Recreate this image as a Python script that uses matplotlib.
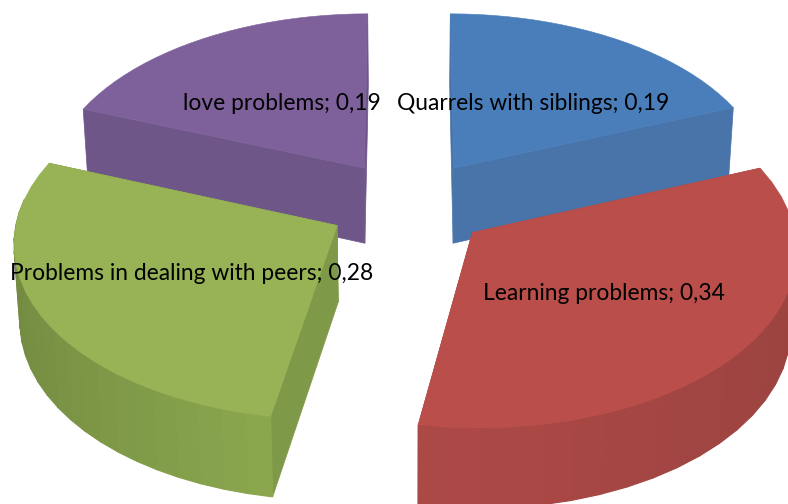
#!/usr/bin/env python3

import numpy as np
import matplotlib
matplotlib.use("Agg")
import matplotlib.pyplot as plt
from matplotlib.colors import to_rgb
from matplotlib.patches import Polygon

labels = ["Quarrels with siblings", "Learning problems",
          "Problems in dealing with peers", "love problems"]
values = [0.19, 0.34, 0.28, 0.19]

top_colors = ["#4A7EBB", "#B94E4A", "#97B356", "#7E619B"]
face_colors = ["#4874A9", "#A84845", "#7E9A48", "#6E5689"]
rim_dark = ["#3F6797", "#9C4340", "#748C42", "#5F4A78"]
rim_light = ["#4874A9", "#AC4946", "#8FAC50", "#6E5689"]

# label position in pixels (left, vertical centre)
label_x = [397, 483, 10, 183]
label_y = [104, 293, 274, 104]

# projection of the pie
CX, CY = 409, 204
A, B, K = 318, 173.4, 0.086
EXPLODE = 0.255
DEPTH, DEPTH_V = 76, 4
SHRINK = 0.985
FRONT_TURN = np.radians(-1.0)


def project(u, v, bottom=False):
    w = 1 + K * v
    x = A * u / w
    y = -B * v / w
    if bottom:
        return CX + x * SHRINK, CY + y + DEPTH - DEPTH_V * v
    return CX + x, CY + y


def warp(a):
    # front of the pie sits slightly turned compared with the back
    return a + FRONT_TURN * (1 - np.cos(a)) / 2


def to_xy(pts):
    return np.column_stack(pts)


fig = plt.figure(figsize=(7.88, 5.04), dpi=100)
ax = fig.add_axes([0, 0, 1, 1])
ax.set_xlim(0, 788)
ax.set_ylim(504, 0)
ax.axis("off")

total = sum(values)
edges = np.cumsum([0] + values) / total * 2 * np.pi


def draw_slice(i):
    a0, a1 = edges[i], edges[i + 1]
    mid = (a0 + a1) / 2
    ou, ov = EXPLODE * np.sin(mid), EXPLODE * np.cos(mid)
    th = warp(np.linspace(a0, a1, 25))
    ru, rv = ou + np.sin(th), ov + np.cos(th)

    # cut faces first
    for a in (th[0], th[-1]):
        eu, ev = ou + np.sin(a), ov + np.cos(a)
        uu = np.array([ou, eu])
        vv = np.array([ov, ev])
        t = to_xy(project(uu, vv))
        b = to_xy(project(uu, vv, True))
        quad = np.vstack([t, b[::-1]])
        ax.add_patch(Polygon(quad, closed=True, fc=face_colors[i], ec=face_colors[i], lw=0.5))

    # outer rim, only the part facing the viewer, in strips like the original
    t = to_xy(project(ru, rv))
    b = to_xy(project(ru, rv, True))
    for j in range(len(th) - 1):
        if np.cos(th[j]) > 0.1 and np.cos(th[j + 1]) > 0.1:
            continue
        f = abs(np.sin(th[j]))
        c0 = np.array(to_rgb(rim_light[i]))
        c1 = np.array(to_rgb(rim_dark[i]))
        col = c0 + (c1 - c0) * f
        quad = np.vstack([t[j], t[j + 1], b[j + 1], b[j]])
        ax.add_patch(Polygon(quad, closed=True, fc=col, ec=col, lw=0.8))

    # top surface
    uu = np.concatenate([[ou], ru])
    vv = np.concatenate([[ov], rv])
    ax.add_patch(Polygon(to_xy(project(uu, vv)), closed=True, fc=top_colors[i],
                         ec=top_colors[i], lw=0.4))


for i in [3, 0, 2, 1]:
    draw_slice(i)

for name, val, x, y in zip(labels, values, label_x, label_y):
    txt = "{}; {}".format(name, "{:.2f}".format(val).replace(".", ","))
    ax.text(x, y, txt, family="Lato", fontsize=16.4, color="black", ha="left", va="center")

fig.savefig("out.png", dpi=100)
